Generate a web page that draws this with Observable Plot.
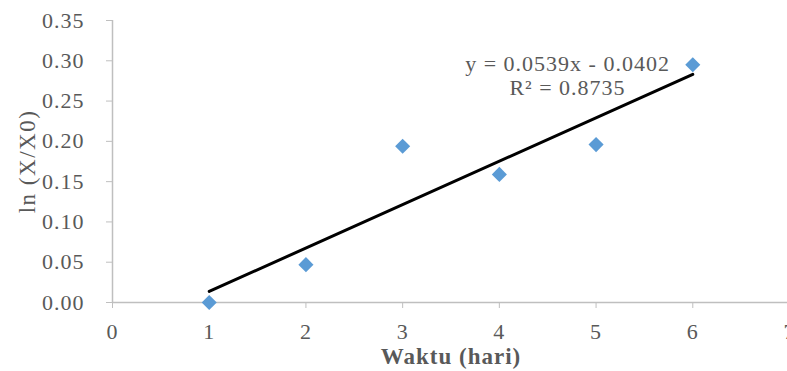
<!DOCTYPE html>
<html>
<head>
<meta charset="utf-8">
<script src="https://cdn.jsdelivr.net/npm/d3@7"></script>
<script src="https://cdn.jsdelivr.net/npm/@observablehq/plot@0.6"></script>
<style>
  html, body { margin: 0; padding: 0; background: #fff; overflow: hidden; }
</style>
</head>
<body>
<div id="chart"></div>
<script>
// Data
const days = [1, 2, 3, 4, 5, 6];
const lnRatio = [0.000, 0.047, 0.194, 0.159, 0.196, 0.295];
const xTicks = [0, 1, 2, 3, 4, 5, 6, 7];
const yTicks = [0, 0.05, 0.10, 0.15, 0.20, 0.25, 0.30, 0.35];
const slope = 0.0539;
const intercept = -0.0402;
const equationText = "y = 0.0539x - 0.0402\nR² = 0.8735";
const xLabel = "Waktu (hari)";
const yLabel = "ln (X/X0)";

const points = days.map((d, i) => ({day: d, value: lnRatio[i]}));
const trend = [days[0], days[days.length - 1]].map(d => ({day: d, value: slope * d + intercept}));

const font = "Liberation Serif, Times New Roman, serif";
const gray = "#595959";
const axisGray = "#BFBFBF";

const chart = Plot.plot({
  width: 787,
  height: 371,
  marginLeft: 112,
  marginRight: -2,
  marginTop: 20,
  marginBottom: 69,
  style: {fontFamily: font, background: "#fff", overflow: "hidden"},
  x: {domain: [0, 7], ticks: xTicks},
  y: {domain: [0, 0.35], ticks: yTicks},
  marks: [
    Plot.ruleY([0], {stroke: axisGray, strokeWidth: 1.5}),
    Plot.ruleX([0], {stroke: axisGray, strokeWidth: 1.5}),
    Plot.axisY({ticks: yTicks, tickFormat: d3.format(".2f"), tickSize: 6, tickPadding: 22,
      stroke: axisGray, fill: gray, fontSize: 22, fontFamily: font, label: null}),
    Plot.axisX({ticks: xTicks, tickFormat: d3.format("d"), tickSize: 6, tickPadding: 15,
      stroke: axisGray, fill: gray, fontSize: 22, fontFamily: font, label: null}),
    Plot.line(trend, {x: "day", y: "value", stroke: "black", strokeWidth: 3}),
    Plot.dot(points, {x: "day", y: "value", symbol: "diamond2", r: 6.8, fill: "#5B9BD5", stroke: "none"}),
    Plot.text([equationText], {x: 4.705, y: 0.2824, text: d => d, fontSize: 22, fill: gray,
      fontFamily: font, textAnchor: "middle", lineAnchor: "middle", lineHeight: 1.1}),
    Plot.text([xLabel], {frameAnchor: "bottom", dy: 54, text: d => d, fontSize: 23, fontWeight: "bold",
      fill: gray, fontFamily: font, lineAnchor: "middle"}),
    Plot.text([yLabel], {frameAnchor: "left", dx: -85, rotate: -90, text: d => d, fontSize: 23,
      fill: gray, fontFamily: font, textAnchor: "middle", lineAnchor: "middle"})
  ]
});
// widen glyph spacing slightly to match the reference's wider type
d3.select(chart).selectAll("text").style("letter-spacing", "1px");
d3.select(chart).selectAll("text").filter(function() { return this.textContent === yLabel; })
  .style("letter-spacing", "1.5px");
document.getElementById("chart").appendChild(chart);
</script>
</body>
</html>
